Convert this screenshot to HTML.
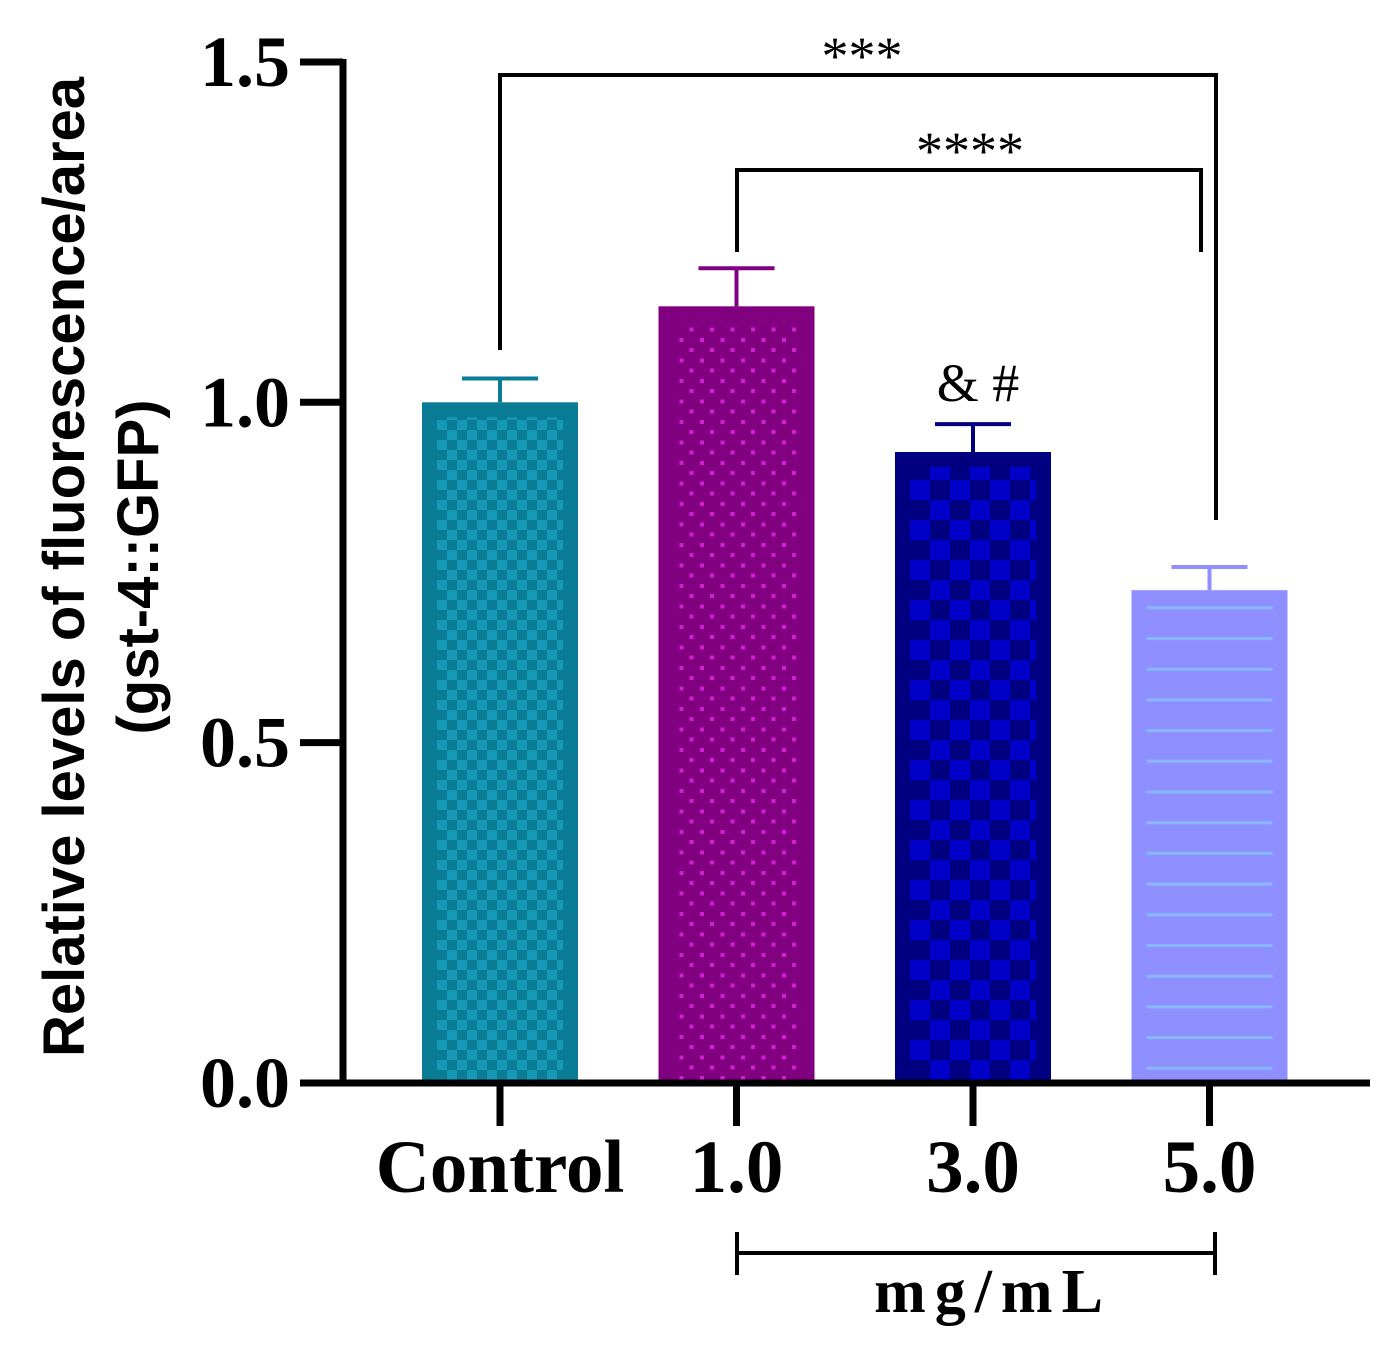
<!DOCTYPE html>
<html><head><meta charset="utf-8"><style>
body{margin:0;background:#fff}
svg{display:block}
text{font-family:"Liberation Serif",serif;font-weight:bold}
</style></head><body>
<svg id="chart" width="1400" height="1357" viewBox="0 0 1400 1357">
<defs>
<pattern id="p0" width="20" height="20" patternUnits="userSpaceOnUse" x="437" y="0"><rect width="20" height="20" fill="#0a7c96"/><rect width="10" height="10" fill="#1699b6"/><rect x="10" y="10" width="10" height="10" fill="#1699b6"/></pattern>
<pattern id="p1" width="20.5" height="20.5" patternUnits="userSpaceOnUse" x="3" y="10"><rect width="20.5" height="20.5" fill="#800080"/><rect x="0" y="0" width="4" height="4" fill="#d31fd3"/><rect x="10" y="10" width="4" height="4" fill="#d31fd3"/></pattern>
<pattern id="p2" width="40" height="40" patternUnits="userSpaceOnUse" x="910" y="0"><rect width="40" height="40" fill="#000080"/><rect width="20" height="20" fill="#0000c8"/><rect x="20" y="20" width="20" height="20" fill="#0000c8"/></pattern>
<pattern id="p3" width="30.7" height="30.7" patternUnits="userSpaceOnUse" x="0" y="11"><rect width="30.7" height="30.7" fill="#8f8fff"/><rect y="12" width="30.7" height="3" fill="#8ab8ff"/></pattern>
</defs>
<g id="bars"></g>
<g id="axes"></g>
<text transform="translate(84,567) rotate(-90)" text-anchor="middle" style="font-family:'Liberation Sans',sans-serif;font-size:58px">Relative levels of fluorescence/area</text>
<text transform="translate(158,567) rotate(-90)" text-anchor="middle" style="font-family:'Liberation Sans',sans-serif;font-size:58px">(gst-4::GFP)</text>
<g fill="none" stroke="#000" stroke-width="4">
<polyline points="500,350 500,75 1216,75 1216,520"/>
<polyline points="737,252 737,170 1201,170 1201,252"/>
<line x1="737" y1="1253" x2="1215" y2="1253"/><line x1="737" y1="1232" x2="737" y2="1275"/><line x1="1215" y1="1232" x2="1215" y2="1275"/>
</g>
<text x="862" y="74" text-anchor="middle" font-size="54" style="font-weight:normal">***</text>
<text x="970" y="169" text-anchor="middle" font-size="54" style="font-weight:normal">****</text>
<text x="978" y="401" text-anchor="middle" font-size="54" style="font-weight:normal">&amp; #</text>
<text x="993" y="1312" text-anchor="middle" font-size="62" letter-spacing="9">mg/mL</text>
</svg>
<script>
const categories=["Control","1.0","3.0","5.0"];
const values=[1.0,1.141,0.927,0.724];
const errors=[0.035,0.056,0.041,0.034];
const yTicks=[0,0.5,1.0,1.5];
const yTickLabels=["0.0","0.5","1.0","1.5"];
const fills=["#0a7c96","#800080","#000080","#8f8fff"];
const NS="http://www.w3.org/2000/svg";
const y0=1083,sc=680.7;
const y=v=>y0-v*sc;
const x=i=>500+i*236.5;
const bw=156;
function mk(t,a,p){const e=document.createElementNS(NS,t);for(const k in a)e.setAttribute(k,a[k]);p.appendChild(e);return e;}
const bars=document.getElementById('bars'),axes=document.getElementById('axes');
categories.forEach((c,i)=>{
 const g=mk('g',{},bars);
 
 
 mk('rect',{x:x(i)-bw/2,y:y(values[i]),width:bw,height:y0-y(values[i]),fill:fills[i]},g);
 mk('rect',{x:x(i)-bw/2+15,y:y(values[i])+15,width:bw-30,height:y0-y(values[i])-18,fill:'url(#p'+i+')'},g);
 const eb=mk('g',{stroke:fills[i],'stroke-width':4},g);
 
 
 mk('line',{x1:x(i),x2:x(i),y1:y(values[i]),y2:y(values[i]+errors[i])},eb);
 mk('line',{x1:x(i)-38,x2:x(i)+38,y1:y(values[i]+errors[i]),y2:y(values[i]+errors[i])},eb);
 const t=mk('text',{x:x(i),y:1192,'text-anchor':'middle','font-size':75},axes);
 
 
 t.textContent=c;
 const tk=mk('line',{x1:x(i),x2:x(i),y1:y0,y2:1126,stroke:'#000','stroke-width':7},axes);
 
 
});
const ya=mk('line',{x1:343,x2:343,y1:y(1.5)-3,y2:y0+3,stroke:'#000','stroke-width':7},axes);


const xa=mk('line',{x1:300,x2:1370,y1:y0,y2:y0,stroke:'#000','stroke-width':7},axes);


yTicks.forEach((v,i)=>{
 const l=mk('line',{x1:300,x2:343,y1:y(v),y2:y(v),stroke:'#000','stroke-width':7},axes);
 
 
 const t=mk('text',{x:290,y:y(v)+24,'text-anchor':'end','font-size':72},axes);
 
 
 t.textContent=yTickLabels[i];
});
</script>
</body></html>
